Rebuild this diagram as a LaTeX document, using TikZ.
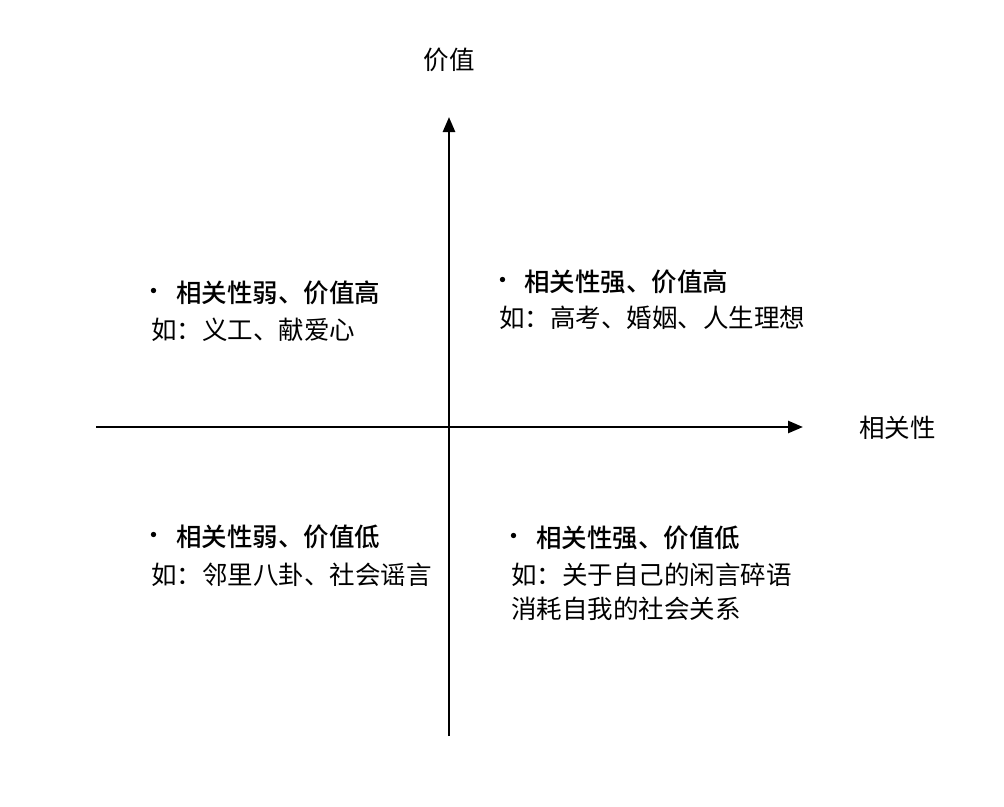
\documentclass[tikz,border=0pt]{standalone}
\usepackage{fontspec}
\setmainfont{Noto Sans CJK SC}
\newfontfamily\cjk{Noto Sans CJK SC}
\newfontfamily\cjkb{Noto Sans CJK SC Medium}
\usetikzlibrary{arrows.meta}
\tikzset{
  axis/.style={line width=2.6pt, -{Triangle[length=15pt,width=12pt]}},
  lbl/.style={inner sep=0pt, font=\cjk\fontsize{25.5pt}{30pt}\selectfont},
  hd/.style={lbl, anchor=west, font=\cjkb\fontsize{25.5pt}{30pt}\selectfont},
  ex/.style={lbl, anchor=west},
  bul/.style={inner sep=0pt, anchor=base, font=\cjk\fontsize{25pt}{30pt}\selectfont}
}
\begin{document}
\begin{tikzpicture}[x=1pt,y=-1pt]
\useasboundingbox (0,0) rectangle (1004,806);
\coordinate (xs) at (96,427);
\coordinate (xe) at (803,427);
\coordinate (ys) at (449,736);
\coordinate (ye) at (449,117);
\draw[axis] (xs) -- (xe);
\draw[axis] (ys) -- (ye);
\node[lbl] (ylab) at (449,60) {价值};
\node[lbl, anchor=west] (xlab) at (859,428) {相关性};
% top-left
\node[bul] (tlb) at (154,300) {·};
\node[hd] (tl1) at (176,293) {相关性弱、价值高};
\node[ex] (tl2) at (151,330) {如：义工、献爱心};
% top-right
\node[bul] (trb) at (503,289) {·};
\node[hd] (tr1) at (524,282) {相关性强、价值高};
\node[ex] (tr2) at (499,318) {如：高考、婚姻、人生理想};
% bottom-left
\node[bul] (blb) at (154,544) {·};
\node[hd] (bl1) at (176,537) {相关性弱、价值低};
\node[ex] (bl2) at (151,575) {如：邻里八卦、社会谣言};
% bottom-right
\node[bul] (brb) at (514,545) {·};
\node[hd] (br1) at (536,538) {相关性强、价值低};
\node[ex] (br2) at (511,575) {如：关于自己的闲言碎语};
\node[ex] (br3) at (511,609) {消耗自我的社会关系};
\end{tikzpicture}
\end{document}
